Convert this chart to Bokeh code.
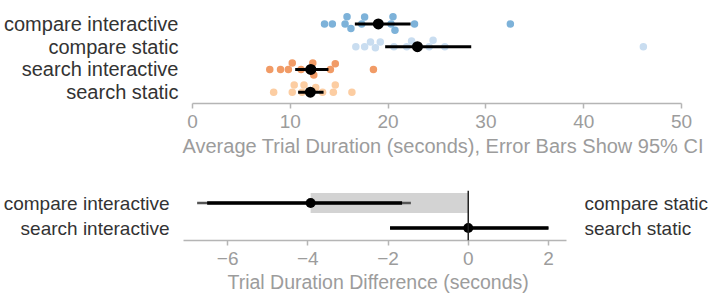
import numpy as np
from bokeh.plotting import figure
from bokeh.models import Range1d, LinearAxis, Span, ColumnDataSource, Title
from bokeh.embed import file_html
from bokeh.resources import INLINE

# ---- per-participant average trial durations (seconds) ----
conditions = ["compare interactive", "compare static", "search interactive", "search static"]
compare_interactive = [13.5, 14.3, 15.6, 15.8, 16.2, 17.3, 17.6, 20.3, 20.5, 20.7, 22.7, 32.5]
compare_static = [16.7, 17.6, 18.2, 18.7, 19.2, 20.6, 21.9, 22.4, 24.2, 24.6, 25.8, 46.1]
search_interactive = [7.9, 9.0, 9.8, 10.2, 11.1, 11.9, 12.3, 12.4, 14.1, 14.6, 18.5]
search_static = [8.3, 10.2, 10.4, 11.2, 11.4, 12.0, 12.6, 13.3, 14.4, 14.6, 16.3]

# condition means with 95% confidence intervals
means = [19.0, 23.0, 12.1, 12.05]
ci_low = [16.6, 19.7, 10.5, 10.8]
ci_high = [22.3, 28.5, 13.9, 13.4]

colors = ["#7db2d9", "#c9ddf0", "#f19b66", "#fccda2"]
top_ticks = [0, 10, 20, 30, 40, 50]
top_title = "Average Trial Duration (seconds), Error Bars Show 95% CI"

# ---- interactive minus static differences ----
diff_left_labels = ["compare interactive", "search interactive"]
diff_right_labels = ["compare static", "search static"]
diff_mean = [-3.93, 0.0]
diff_outer_low = [-6.76, -1.95]
diff_outer_high = [-1.43, 2.0]
diff_inner_low = [-6.51, -1.95]
diff_inner_high = [-1.65, 2.0]
bottom_ticks = [-6, -4, -2, 0, 2]
bottom_title = "Trial Duration Difference (seconds)"

FONT = "Liberation Sans"
LABEL = "#333333"
GREY_TXT = "#9c9c9c"
AXIS_LINE = "#b5b5b5"


def swarm_offsets(values, diameter, px_per_x, px_per_y):
    """Beeswarm layout: nudge each dot vertically to the free spot nearest the row centre."""
    vals = np.asarray(values, dtype=float)
    placed = []
    offsets = np.zeros(len(vals))
    for i in np.argsort(vals):
        x = vals[i] * px_per_x
        cands = [0.0]
        for px, py in placed:
            dx = abs(x - px)
            if dx < diameter:
                dy = np.sqrt(diameter ** 2 - dx ** 2)
                cands += [py + dy, py - dy]
        cands.sort(key=lambda c: (abs(c), -c))
        chosen = cands[-1]
        for c in cands:
            if all((x - px) ** 2 + (c - py) ** 2 >= diameter ** 2 - 1e-6 for px, py in placed):
                chosen = c
                break
        placed.append((x, chosen))
        offsets[i] = chosen / px_per_y
    return offsets


def style_x_axis(ax, size):
    ax.axis_line_color = AXIS_LINE
    ax.axis_line_width = 1.5
    ax.major_tick_line_color = AXIS_LINE
    ax.major_tick_line_width = 1.5
    ax.major_tick_out = 5
    ax.major_tick_in = 0
    ax.minor_tick_line_color = None
    ax.major_label_text_font = FONT
    ax.major_label_text_font_size = size
    ax.major_label_text_color = GREY_TXT
    ax.major_label_standoff = 6


def style_label_axis(ax, size, standoff):
    ax.axis_line_color = None
    ax.major_tick_line_color = None
    ax.minor_tick_line_color = None
    ax.major_tick_out = 0
    ax.major_tick_in = 0
    ax.major_label_text_font = FONT
    ax.major_label_text_font_size = size
    ax.major_label_text_color = LABEL
    ax.major_label_standoff = standoff


def caption(text, size, offset, standoff):
    return Title(text=text, align="left", offset=offset, standoff=standoff, text_font=FONT,
                 text_font_size=size, text_font_style="normal", text_color=GREY_TXT)


# ================= top panel: durations per condition =================
FW1, FH1 = 489, 91
p1 = figure(frame_width=FW1, frame_height=FH1, x_range=Range1d(0, 50), y_range=Range1d(-0.5, 3.5),
            output_backend="svg", toolbar_location=None,
            min_border_left=191, min_border_right=34, min_border_top=12, min_border_bottom=67)
p1.grid.visible = False
p1.outline_line_color = None
p1.background_fill_color = "white"

px_x = FW1 / 50.0
px_y = FH1 / 4.0

rows = [3, 2, 1, 0]
groups = [compare_interactive, compare_static, search_interactive, search_static]
for vals, row, col in zip(groups, rows, colors):
    off = swarm_offsets(vals, 7.5, px_x, px_y)
    src = ColumnDataSource(dict(x=vals, y=row + off))
    p1.scatter("x", "y", source=src, size=7.5, fill_color=col, line_color=None)

ci_src = ColumnDataSource(dict(lo=ci_low, hi=ci_high, m=means, y=rows))
p1.segment(x0="lo", y0="y", x1="hi", y1="y", source=ci_src, line_color="black", line_width=3)
p1.scatter("m", "y", source=ci_src, size=11, fill_color="black", line_color=None)

p1.xaxis.ticker = top_ticks
style_x_axis(p1.xaxis[0], "19px")
p1.add_layout(caption(top_title, "20px", -10, 4), "below")

p1.yaxis.ticker = rows
p1.yaxis.major_label_overrides = {r: c for r, c in zip(rows, conditions)}
style_label_axis(p1.yaxis[0], "20px", 14)

# ================= bottom panel: interactive - static =================
FW2, FH2 = 383, 50
p2 = figure(frame_width=FW2, frame_height=FH2, x_range=Range1d(-7.1, 2.45), y_range=Range1d(-0.5, 1.5),
            output_backend="svg", toolbar_location=None,
            min_border_left=182, min_border_right=149, min_border_top=20, min_border_bottom=57)
p2.grid.visible = False
p2.outline_line_color = None
p2.background_fill_color = "white"

drows = [1, 0]
dsrc = ColumnDataSource(dict(m=diff_mean, y=drows, olo=diff_outer_low, ohi=diff_outer_high,
                             ilo=diff_inner_low, ihi=diff_inner_high))
# shaded gap between the compare difference and zero
p2.hbar(y=[drows[0]], left=[diff_mean[0]], right=[0], height=0.8,
        fill_color="#d3d3d3", line_color=None)
p2.add_layout(Span(location=0, dimension="height", line_color="#222222", line_width=1.5))
p2.segment(x0="olo", y0="y", x1="ohi", y1="y", source=dsrc, line_color="#555555", line_width=2.5)
p2.segment(x0="ilo", y0="y", x1="ihi", y1="y", source=dsrc, line_color="black", line_width=3.5)
p2.scatter("m", "y", source=dsrc, size=10, fill_color="black", line_color=None)

p2.xaxis.ticker = bottom_ticks
p2.xaxis.major_label_overrides = {t: (f"\u2212{abs(t)}" if t < 0 else str(t)) for t in bottom_ticks}
style_x_axis(p2.xaxis[0], "19px")
p2.add_layout(caption(bottom_title, "19.5px", 44, 2), "below")

p2.yaxis.ticker = drows
p2.yaxis.major_label_overrides = {r: c for r, c in zip(drows, diff_left_labels)}
style_label_axis(p2.yaxis[0], "19px", 14)

right_axis = LinearAxis(ticker=drows,
                        major_label_overrides={r: c for r, c in zip(drows, diff_right_labels)})
style_label_axis(right_axis, "19px", 18)
right_axis.major_label_text_align = "left"
p2.add_layout(right_axis, "right")

# two independent panels stacked on the page
open("out.html", "w").write(file_html([p1, p2], INLINE))
